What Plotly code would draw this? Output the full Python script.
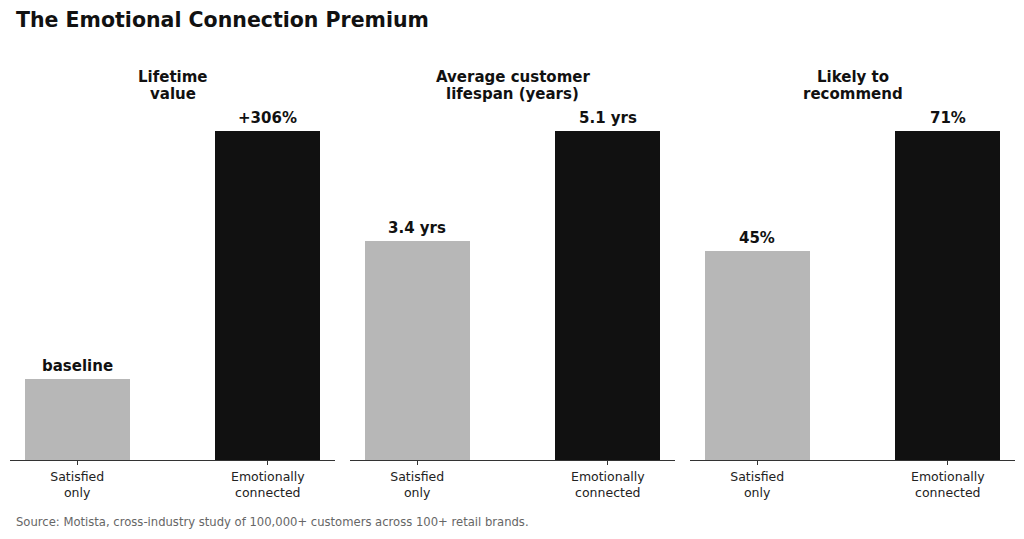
import plotly.graph_objects as go

W, H = 1024, 539

categories = ["Satisfied only", "Emotionally connected"]
tick_labels = ["Satisfied<br>only", "Emotionally<br>connected"]
panel_titles = [["Lifetime", "value"], ["Average customer", "lifespan (years)"], ["Likely to", "recommend"]]
lifetime_value = [1.0, 4.06]
lifespan_years = [3.4, 5.1]
recommend_pct = [45, 71]
value_labels = [["baseline", "+306%"], ["3.4 yrs", "5.1 yrs"], ["45%", "71%"]]
series = [lifetime_value, lifespan_years, recommend_pct]
bar_colors = ["#b7b7b7", "#111111"]

FONT = "DejaVu Sans"
fig = go.Figure()

x_domains = [(10, 335), (350, 675), (690, 1015)]
y_bottom_px, y_top_px = 460, 98
ydom = [(H - y_bottom_px) / H, (H - y_top_px) / H]
ymult = (y_bottom_px - y_top_px) / (y_bottom_px - 131)

annotations = []
for i, vals in enumerate(series):
    xa = "x" if i == 0 else f"x{i+1}"
    ya = "y" if i == 0 else f"y{i+1}"
    fig.add_trace(go.Bar(
        x=[0, 1], y=vals, width=0.55,
        marker=dict(color=bar_colors, line=dict(width=0)),
        xaxis=xa, yaxis=ya, showlegend=False, hoverinfo="skip",
    ))
    axkey = "xaxis" if i == 0 else f"xaxis{i+1}"
    aykey = "yaxis" if i == 0 else f"yaxis{i+1}"
    d0, d1 = x_domains[i]
    fig.layout[axkey] = dict(
        domain=[d0 / W, d1 / W], range=[-0.3525, 1.3525],
        tickmode="array", tickvals=[0, 1], ticktext=tick_labels,
        ticks="outside", ticklen=4, tickwidth=1, tickcolor="#333333",
        showline=True, linecolor="#333333", linewidth=1,
        showgrid=False, zeroline=False, fixedrange=True,
        tickfont=dict(family=FONT, size=12.5, color="#222222"),
        ticklabelstandoff=1,
        anchor=ya,
    )
    fig.layout[aykey] = dict(
        domain=ydom, range=[0, max(vals) * ymult], visible=False,
        showgrid=False, zeroline=False, anchor=xa, fixedrange=True,
    )
    for j, v in enumerate(vals):
        annotations.append(dict(
            x=j, y=v, xref=xa, yref=ya, text=f"<b>{value_labels[i][j]}</b>",
            showarrow=False, yanchor="bottom", yshift=2,
            font=dict(family=FONT, size=15, color="#111111"),
        ))
    for k, (line, ypx) in enumerate(zip(panel_titles[i], (77, 94))):
        annotations.append(dict(
            x=(d0 + d1) / 2 / W, y=(H - ypx) / H, xref="paper", yref="paper",
            text=f"<b>{line}</b>", showarrow=False,
            xanchor="center", yanchor="middle",
            font=dict(family=FONT, size=15, color="#111111"),
        ))

annotations.append(dict(
    x=14 / W, y=(H - 20) / H, xref="paper", yref="paper",
    text="<b>The Emotional Connection Premium</b>", showarrow=False,
    xanchor="left", yanchor="middle",
    font=dict(family=FONT, size=20.5, color="#111111"),
))
annotations.append(dict(
    x=14 / W, y=(H - 522) / H, xref="paper", yref="paper",
    text="Source: Motista, cross-industry study of 100,000+ customers across 100+ retail brands.",
    showarrow=False, xanchor="left", yanchor="middle",
    font=dict(family=FONT, size=11.6, color="#666666"),
))

fig.update_layout(
    width=W, height=H, margin=dict(l=0, r=0, t=0, b=0),
    paper_bgcolor="white", plot_bgcolor="white",
    annotations=annotations, bargap=0,
    font=dict(family=FONT),
)

fig.write_html("out.html", config={"displayModeBar": False})
